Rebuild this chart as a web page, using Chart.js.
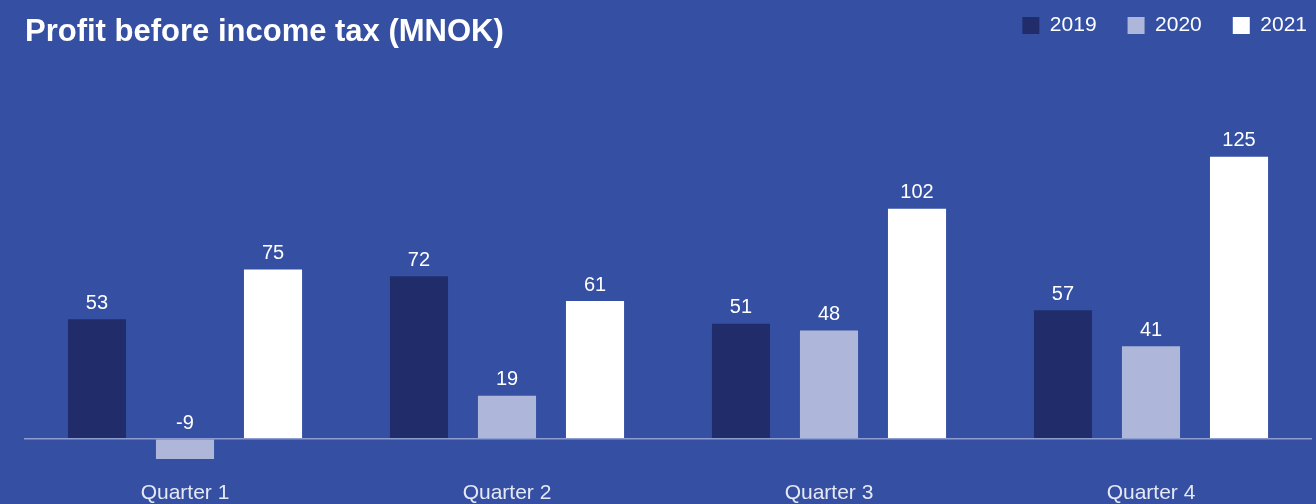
<!DOCTYPE html>
<html lang="en">
<head>
  <meta charset="UTF-8" />
  <title>Profit before income tax (MNOK)</title>
  <script src="https://cdn.jsdelivr.net/npm/chart.js"></script>
  <style>
    html, body {
      margin: 0;
      padding: 0;
      background-color: #3550a3;
    }
    .wrap {
      position: relative;
      width: 1316px;
      height: 504px;
    }
    h1 {
      position: absolute;
      left: 25px;
      top: 12px;
      margin: 0;
      font-family: "Liberation Sans", Arial, sans-serif;
      font-weight: bold;
      font-size: 31px;
      line-height: 38px;
      color: #ffffff;
    }
  </style>
</head>
<body>
  <div class="wrap">
    <canvas id="profitChart"></canvas>
    <h1>Profit before income tax (MNOK)</h1>
  </div>

  <script>
    const quarters = ['Quarter 1', 'Quarter 2', 'Quarter 3', 'Quarter 4'];
    const profit2019 = [53, 72, 51, 57];
    const profit2020 = [-9, 19, 48, 41];
    const profit2021 = [75, 61, 102, 125];

    const FONT = '"Liberation Sans", Arial, sans-serif';

    // value labels above each bar (above the zero line for negatives)
    const barLabels = {
      id: 'barLabels',
      afterDatasetsDraw(chart) {
        const ctx = chart.ctx;
        ctx.save();
        ctx.font = '20px ' + FONT;
        ctx.fillStyle = '#ffffff';
        ctx.textAlign = 'center';
        ctx.textBaseline = 'bottom';
        chart.data.datasets.forEach((ds, i) => {
          chart.getDatasetMeta(i).data.forEach((bar, j) => {
            const top = Math.min(bar.y, bar.base);
            ctx.fillText(ds.data[j], bar.x, top - 6);
          });
        });
        ctx.restore();
      }
    };

    // nudge the legend up and to the right edge, like the original
    const legendShift = {
      id: 'legendShift',
      afterLayout(chart) {
        const lg = chart.legend;
        lg.top -= 16; lg.bottom -= 16;
        lg.left += 26; lg.right += 26;
      }
    };

    new Chart(document.getElementById('profitChart'), {
      type: 'bar',
      data: {
        labels: quarters,
        datasets: [
          { label: '2019', data: profit2019, backgroundColor: '#212c6b' },
          { label: '2020', data: profit2020, backgroundColor: '#aeb7d9' },
          { label: '2021', data: profit2021, backgroundColor: '#ffffff' }
        ]
      },
      options: {
        responsive: true,
        maintainAspectRatio: false,
        animation: false,
        categoryPercentage: 0.82,
        barPercentage: 0.66,
        layout: { padding: { left: 24, right: 4, top: 0, bottom: -17 } },
        plugins: {
          tooltip: { enabled: false },
          legend: {
            position: 'top',
            align: 'end',
            labels: {
              color: '#ffffff',
              boxWidth: 17,
              boxHeight: 17,
              padding: 31,
              font: { family: FONT, size: 21 }
            }
          }
        },
        scales: {
          x: {
            grid: { display: false, drawTicks: false },
            border: { display: false },
            ticks: {
              color: '#e6e9f4',
              padding: 15,
              font: { family: FONT, size: 21 }
            }
          },
          y: {
            min: -12,
            max: 167,
            afterBuildTicks: scale => {
              scale.ticks = [{ value: -12 }, { value: 0 }, { value: 167 }];
            },
            ticks: { display: false },
            border: { display: false },
            grid: {
              drawTicks: false,
              lineWidth: 1.5,
              color: c => c.tick.value === 0 ? '#8d9dd1' : 'transparent'
            }
          }
        }
      },
      plugins: [barLabels, legendShift]
    });
  </script>
</body>
</html>
